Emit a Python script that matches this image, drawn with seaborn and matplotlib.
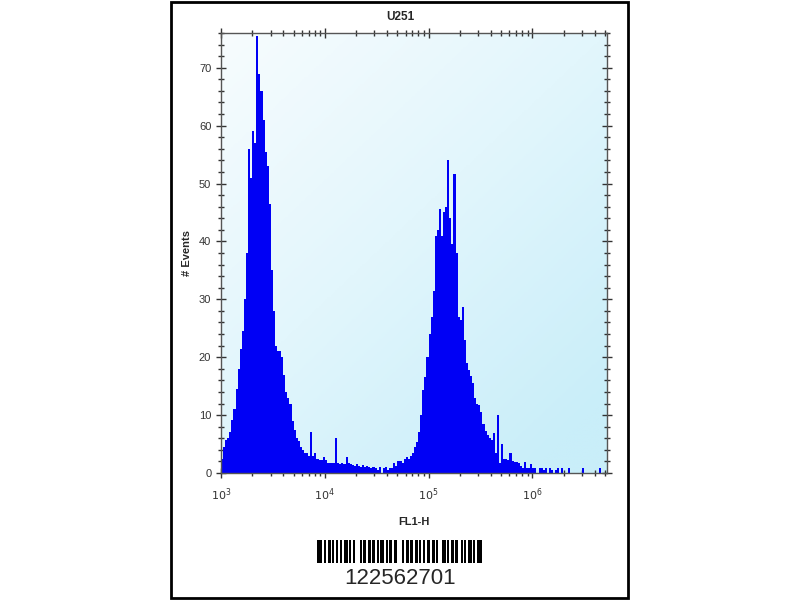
import numpy as np
import pandas as pd
import matplotlib
matplotlib.use('Agg')
import matplotlib.pyplot as plt
from matplotlib.colors import LinearSegmentedColormap
from matplotlib.patches import Rectangle
from matplotlib.ticker import LogLocator, MultipleLocator
import seaborn as sns

sns.set_style('white')
plt.rcParams['font.family'] = ['Liberation Sans', 'DejaVu Sans']

# histogram counts, one value per 0.02 decade channel starting at 10^3
counts = [
    2.5, 4.5, 5.7, 6.0, 7.0, 9.2, 11.0, 14.5, 18.0, 21.5,
    24.5, 30.0, 38.0, 56.0, 51.0, 59.0, 57.0, 75.5, 69.0, 66.0,
    61.0, 55.5, 53.0, 46.5, 35.0, 28.0, 22.0, 21.0, 21.0, 20.0,
    17.0, 14.0, 13.0, 12.0, 9.0, 7.5, 6.0, 5.5, 4.5, 4.0,
    3.5, 3.5, 3.0, 7.0, 3.0, 3.5, 2.5, 2.2, 2.2, 2.8,
    2.2, 1.7, 1.7, 1.7, 1.7, 6.0, 1.8, 1.5, 1.7, 1.5,
    2.8, 1.7, 1.5, 1.3, 1.2, 1.5, 1.2, 1.0, 1.3, 1.0,
    1.2, 1.0, 0.8, 1.0, 0.9, 0.5, 1.0, 0.0, 0.8, 1.0,
    0.5, 0.9, 0.9, 1.7, 1.2, 2.0, 2.0, 1.8, 2.5, 2.8,
    2.5, 3.0, 3.5, 4.5, 5.4, 7.0, 10.0, 14.3, 16.6, 20.0,
    24.0, 27.0, 31.5, 41.0, 42.0, 45.6, 41.0, 45.0, 46.0, 54.0,
    44.0, 39.5, 51.7, 38.0, 27.0, 26.4, 28.6, 23.0, 19.0, 17.8,
    16.8, 15.5, 13.0, 12.0, 11.8, 10.5, 8.5, 7.3, 6.5, 6.0,
    5.7, 6.9, 3.5, 10.0, 1.7, 5.0, 2.5, 2.5, 2.2, 3.4,
    2.0, 1.9, 1.9, 1.8, 1.2, 0.9, 1.9, 0.9, 0.9, 1.6,
    0.8, 0.9, 0.0, 0.8, 0.9, 0.6, 0.9, 0.0, 0.8, 0.6,
    0.0, 0.6, 0.8, 0.0, 0.8, 0.0, 0.0, 0.8, 0.0, 0.0,
    0.0, 0.0, 0.0, 0.0, 0.8, 0.0, 0.0, 0.0, 0.0, 0.0,
    0.0, 0.0, 0.8, 0.0, 0.0, 0.0,
]
log_start = 3.0
log_step = 0.02

x_ticks = [1e3, 1e4, 1e5, 1e6]
x_ticklabels = ['$10^3$', '$10^4$', '$10^5$', '$10^6$']
y_ticks = [0, 10, 20, 30, 40, 50, 60, 70]

title = 'U251'
x_label = 'FL1-H'
y_label = '# Events'
barcode_text = '122562701'
# alternating bar / space widths of the barcode (in modules)
barcode_widths = [4, 2, 2, 2, 2, 1, 2, 2, 2, 1, 2, 2, 3, 1, 2, 2, 2, 4,
                  2, 1, 2, 2, 3, 1, 2, 2, 2, 1, 3, 2, 2, 1, 2, 2, 3, 4,
                  2, 2, 2, 1, 3, 2, 2, 1, 2, 2, 2, 1, 3, 2, 2, 1, 2, 4,
                  3, 1, 2, 2, 2, 1, 3, 2, 2, 1, 2, 2, 3, 1, 2, 2, 4]

n = len(counts)
centers = 10 ** (log_start + log_step * (np.arange(n) + 0.5))
df = pd.DataFrame({'FL1-H': centers, 'Events': counts})

fig = plt.figure(figsize=(8, 6), dpi=100)
fig.patch.set_facecolor('white')

# outer frame
fig.add_artist(Rectangle((171 / 800, 2 / 600), 457 / 800, 596 / 600,
                         transform=fig.transFigure, fill=False,
                         edgecolor='black', linewidth=2))

ax = fig.add_axes([221 / 800, 1 - 473 / 600, 386 / 800, 440 / 600])

# light blue gradient background
gx, gy = np.meshgrid(np.linspace(0, 1, 200), np.linspace(0, 1, 200))
grad = np.clip(0.5 * gx + 0.6 * gy, 0, 1)
cmap = LinearSegmentedColormap.from_list('bg', ['#f7fcfe', '#e2f6fc', '#c9eef9'])
ax.imshow(grad, extent=[0, 1, 0, 1], transform=ax.transAxes, cmap=cmap,
          aspect='auto', origin='upper', zorder=0)

sns.histplot(data=df, x='FL1-H', weights='Events', log_scale=True,
             binwidth=log_step, binrange=(log_start, log_start + log_step * n),
             color='#0000f5', alpha=1.0, element='bars', linewidth=0,
             edgecolor='none', ax=ax, zorder=2)

ax.set_xlim(1e3, 10 ** (log_start + log_step * n))
ax.set_ylim(0, 76)
ax.set_xticks(x_ticks)
ax.set_xticklabels(x_ticklabels)
ax.xaxis.set_minor_locator(LogLocator(base=10, subs=np.arange(2, 10)))
ax.set_yticks(y_ticks)
ax.yaxis.set_minor_locator(MultipleLocator(2))

for s in ax.spines.values():
    s.set_color('#555555')
    s.set_linewidth(1.0)
    s.set_zorder(3)

ax.tick_params(axis='x', which='both', top=True, bottom=True, direction='inout',
               colors='#333333', labelsize=8, width=1)
ax.tick_params(axis='x', which='major', length=7, pad=6)
ax.tick_params(axis='x', which='minor', length=4)
ax.tick_params(axis='y', which='both', left=True, right=True, direction='inout',
               colors='#333333', labelsize=8, width=1)
ax.tick_params(axis='y', which='major', length=7)
ax.tick_params(axis='y', which='minor', length=4)

ax.set_xlabel(x_label, fontsize=8, fontweight='bold', labelpad=10)
ax.set_ylabel(y_label, fontsize=8, fontweight='bold', labelpad=5)
fig.text(0.5, 1 - 17 / 600, title, ha='center', va='center',
         fontsize=8.5, fontweight='bold')

# barcode
bax = fig.add_axes([317 / 800, 1 - 563 / 600, 165 / 800, 23 / 600])
pos = 0
lefts, widths = [], []
for k, w in enumerate(barcode_widths):
    if k % 2 == 0:
        lefts.append(pos)
        widths.append(w)
    pos += w
bax.bar(lefts, [1] * len(lefts), width=widths, align='edge', color='black',
        linewidth=0)
bax.set_xlim(0, pos)
bax.set_ylim(0, 1)
bax.axis('off')
fig.text(400 / 800, 1 - 578 / 600, barcode_text, ha='center', va='center',
         fontsize=16)

fig.savefig('out.png', dpi=100)
